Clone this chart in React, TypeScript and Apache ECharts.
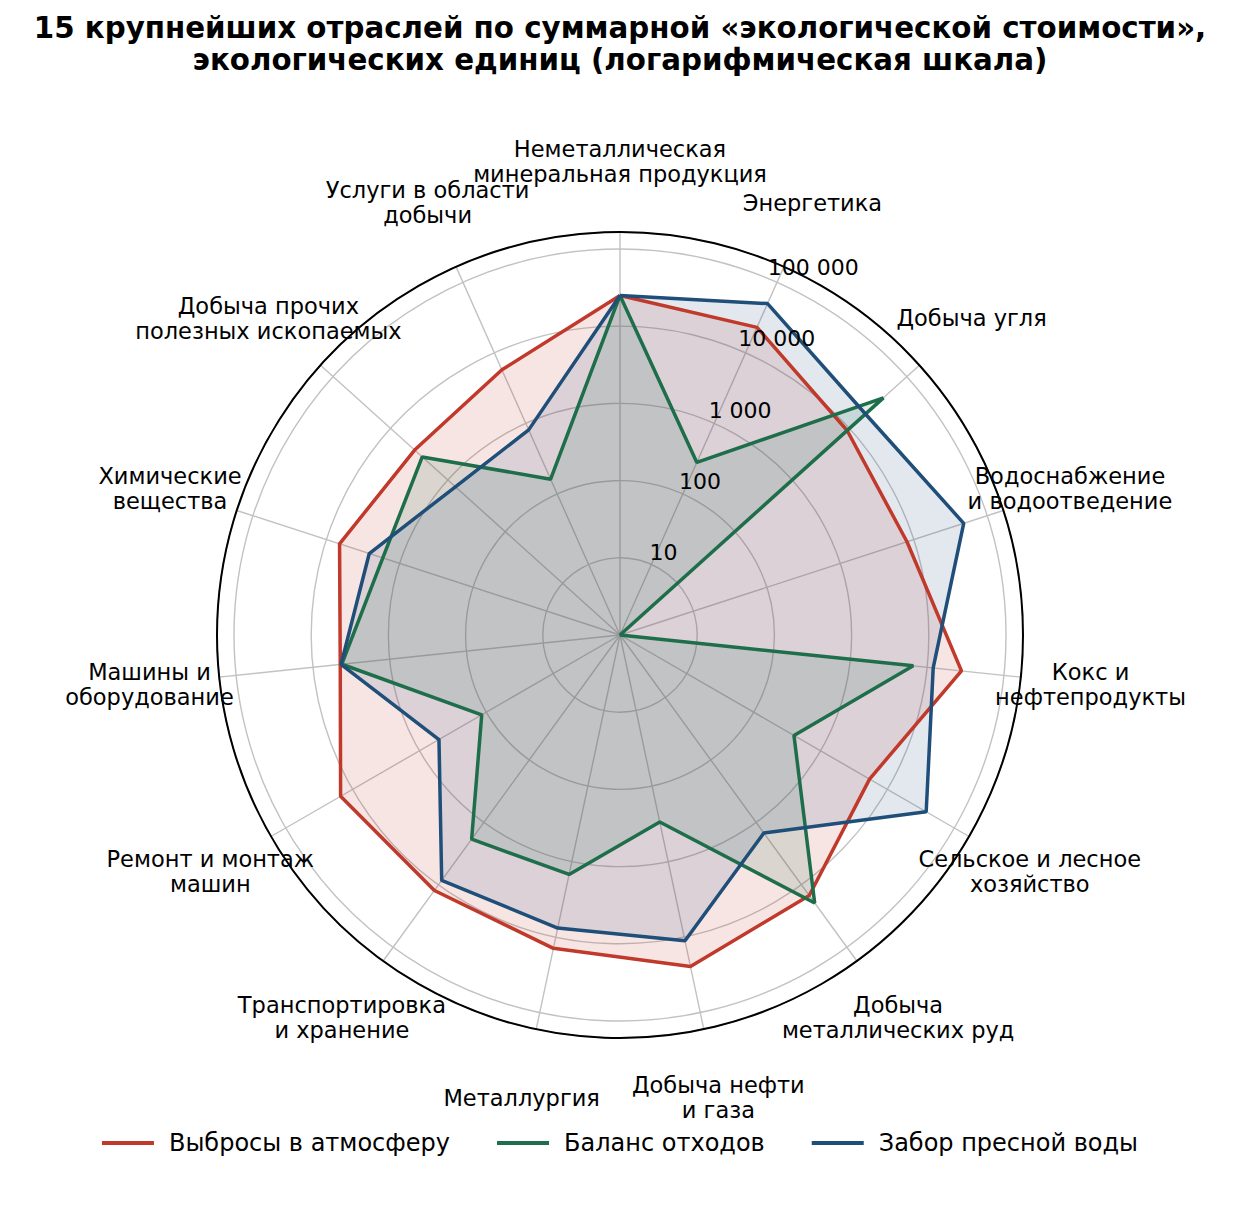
import React, { useEffect, useRef } from 'react';
import * as echarts from 'echarts';

const CATEGORIES = [
  'Неметаллическая\nминеральная продукция',
  'Энергетика',
  'Добыча угля',
  'Водоснабжение\nи водоотведение',
  'Кокс и\nнефтепродукты',
  'Сельское и лесное\nхозяйство',
  'Добыча\nметаллических руд',
  'Добыча нефти\nи газа',
  'Металлургия',
  'Транспортировка\nи хранение',
  'Ремонт и монтаж\nмашин',
  'Машины и\nоборудование',
  'Химические\nвещества',
  'Добыча прочих\nполезных ископаемых',
  'Услуги в области\nдобычи',
];

const EMISSIONS = [25000, 23000, 9100, 8100, 28000, 5400, 14800, 24500, 14100, 12300, 15100, 4400, 6600, 3800, 5750];
const WASTE = [25000, 280, 39000, 0, 6600, 400, 19500, 300, 1480, 1860, 117, 4200, 1700, 2800, 162];
const WATER = [25000, 50000, 19000, 48000, 12000, 38000, 1480, 11200, 7600, 8500, 510, 4300, 2600, 740, 810];

const SERIES_NAMES = ['Выбросы в атмосферу', 'Баланс отходов', 'Забор пресной воды'];
const TICK_LABELS = ['10', '100', '1 000', '10 000', '100 000'];
const TITLE =
  '15 крупнейших отраслей по суммарной «экологической стоимости»,\nэкологических единиц (логарифмическая шкала)';

const R_MAX = 5.22;
const LABEL_R = R_MAX * 1.174;
const FONT = 'DejaVu Sans';
const COLORS = ['#c0392b', '#1e6e4b', '#1f4e79'];
const GRID = '#c2c2c2';

const toLog = (v: number) => Math.log10(Math.max(v, 1));
const closedLoop = (values: number[]) => [
  ...values.map((v, i) => [toLog(v), i]),
  [toLog(values[0]), values.length],
];

export default function App() {
  const ref = useRef<HTMLDivElement>(null);

  useEffect(() => {
    document.body.style.margin = '0';
    if (!ref.current) return;
    const chart = echarts.init(ref.current, undefined, { renderer: 'svg' });
    const dataSets = [EMISSIONS, WASTE, WATER];
    const option: any = {
      animation: false,
      backgroundColor: '#ffffff',
      title: {
        text: TITLE,
        left: 'center',
        top: 7,
        textStyle: {
          fontFamily: FONT,
          fontSize: 29.3,
          fontWeight: 'bold',
          color: '#000',
          lineHeight: 32,
        },
      },
      legend: {
        data: SERIES_NAMES,
        top: 1126,
        left: 'center',
        icon: 'rect',
        itemWidth: 52,
        itemHeight: 4,
        itemGap: 47,
        textStyle: { fontFamily: FONT, fontSize: 24, color: '#000', padding: [0, 0, 0, 10] },
      },
      polar: [
        { center: [620, 635], radius: 403 },
        { center: [620, 635], radius: 403 },
      ],
      angleAxis: [
        {
          polarIndex: 0,
          type: 'value',
          min: 0,
          max: CATEGORIES.length,
          interval: 1,
          startAngle: 90,
          clockwise: true,
          axisLine: { show: true, lineStyle: { color: '#000', width: 2 } },
          axisTick: { show: false },
          axisLabel: { show: false },
          splitLine: { show: true, lineStyle: { color: GRID, width: 1.4 } },
        },
        {
          polarIndex: 1,
          type: 'value',
          min: 0,
          max: 360,
          startAngle: 67.5,
          show: false,
        },
      ],
      radiusAxis: [
        {
          polarIndex: 0,
          type: 'value',
          min: 0,
          max: R_MAX,
          interval: 1,
          axisLine: { show: false },
          axisTick: { show: false },
          axisLabel: { show: false },
          splitLine: { show: true, lineStyle: { color: GRID, width: 1.4 } },
        },
        {
          polarIndex: 1,
          type: 'value',
          min: 0,
          max: R_MAX,
          interval: 1,
          z: 10,
          axisLine: { show: false },
          axisTick: { show: false },
          splitLine: { show: false },
          axisLabel: {
            show: true,
            margin: 0,
            rotate: 0,
            align: 'left',
            verticalAlign: 'bottom',
            fontFamily: FONT,
            fontSize: 22,
            color: '#000',
            showMinLabel: false,
            showMaxLabel: false,
            formatter: (v: number) => {
              const k = Math.round(v);
              if (Math.abs(v - k) > 1e-6 || k < 1 || k > TICK_LABELS.length) return '';
              return TICK_LABELS[k - 1];
            },
          },
        },
      ],
      series: [
        ...dataSets.map((arr, i) => ({
          type: 'line',
          name: SERIES_NAMES[i],
          coordinateSystem: 'polar',
          polarIndex: 0,
          data: closedLoop(arr),
          symbol: 'none',
          lineStyle: { color: COLORS[i], width: 3.5 },
          itemStyle: { color: COLORS[i] },
          areaStyle: { color: COLORS[i], opacity: 0.13 },
          z: 3,
        })),
        {
          type: 'scatter',
          name: 'labels',
          coordinateSystem: 'polar',
          polarIndex: 0,
          data: CATEGORIES.map((_, i) => [LABEL_R, i]),
          symbolSize: 2,
          itemStyle: { color: 'rgba(255,255,255,0)' },
          clip: false,
          silent: true,
          z: 5,
          label: {
            show: true,
            position: 'inside',
            formatter: (p: any) => CATEGORIES[p.dataIndex],
            color: '#000000',
            opacity: 1,
            textBorderWidth: 0,
            textShadowBlur: 0,
            fontFamily: FONT,
            fontSize: 22.5,
            lineHeight: 25,
            align: 'center',
            verticalAlign: 'middle',
          },
        },
      ],
    };
    chart.setOption(option);
    return () => chart.dispose();
  }, []);

  return <div ref={ref} style={{ width: 1240, height: 1228 }} />;
}
